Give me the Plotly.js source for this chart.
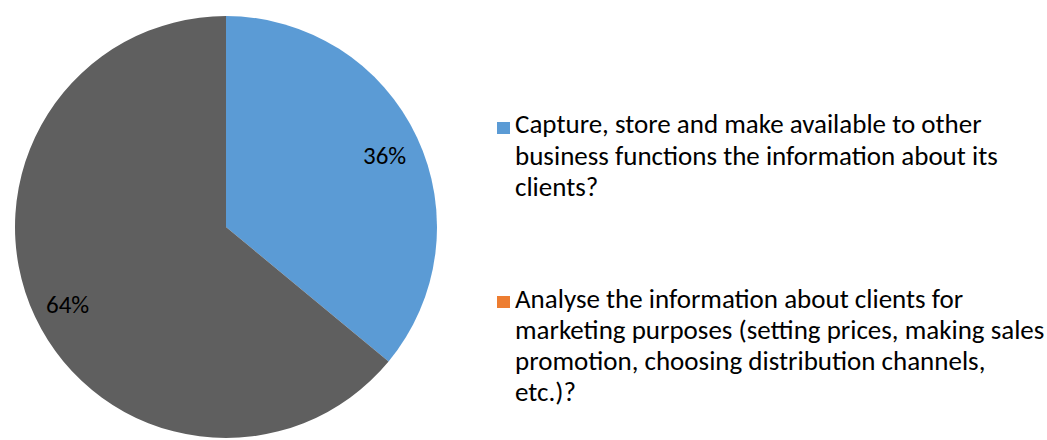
<!DOCTYPE html>
<html>
<head>
<meta charset="utf-8">
<script src="https://cdn.plot.ly/plotly-3.0.1.min.js"></script>
<style>
	html,body{margin:0;padding:0;background:#fff;}
	#chart{width:1047px;height:440px;}
</style>
</head>
<body>
<div id="chart"></div>
<script>
// data
const categories = [
	'Capture, store and make available to other business functions the information about its clients?',
	'Analyse the information about clients for marketing purposes (setting prices, making sales promotion, choosing distribution channels, etc.)?'
];
const shares = [36, 64];
const legendLines = [
	['Capture, store and make available to other', 'business functions the information about its', 'clients?'],
	['Analyse the information about clients for', 'marketing purposes (setting prices, making sales', 'promotion, choosing distribution channels,', 'etc.)?']
];
const sliceColors = ['#5b9bd5', '#5f5f5f'];
const legendColors = ['#5b9bd5', '#ed7d31'];

const W = 1047, H = 440;
const font = 'Carlito, Lato, "Open Sans", "Noto Sans", sans-serif';

// pie geometry in pixels
const cx = 226, cy = 227, R = 211;

const pie = {
	type: 'pie',
	values: shares,
	labels: categories,
	sort: false,
	direction: 'clockwise',
	rotation: 0,
	textinfo: 'none',
	hoverinfo: 'label+percent',
	marker: {colors: sliceColors, line: {width: 0}},
	domain: {x: [(cx - R) / W, (cx + R) / W], y: [(H - cy - R) / H, (H - cy + R) / H]},
	showlegend: false
};

// percent labels placed along each slice's middle angle
const total = shares.reduce((a, b) => a + b, 0);
let annotations = [];
let cum = 0;
shares.forEach((v) => {
	let mid = (cum + v / 2) / total * 2 * Math.PI;
	cum += v;
	let px = cx + 0.83 * R * Math.sin(mid);
	let py = cy - 0.83 * R * Math.cos(mid) + 3;
	annotations.push({
		xref: 'paper', yref: 'paper', x: px / W, y: 1 - py / H,
		xanchor: 'center', yanchor: 'middle',
		text: Math.round(v / total * 100) + '%', showarrow: false,
		font: {family: font, size: 25, color: '#000'}
	});
});

// custom legend (marker colours differ from slices in the original)
const legendTop = [124, 298];
const lineGap = 31;
let shapes = [];
legendLines.forEach((lines, i) => {
	let y0 = legendTop[i];
	shapes.push({
		type: 'rect', xref: 'paper', yref: 'paper',
		x0: 497 / W, x1: 510 / W, y0: 1 - (y0 + 10) / H, y1: 1 - (y0 - 2) / H,
		fillcolor: legendColors[i], line: {width: 0}
	});
	lines.forEach((t, j) => {
		annotations.push({
			xref: 'paper', yref: 'paper', x: 513 / W, y: 1 - (y0 + j * lineGap) / H,
			xanchor: 'left', yanchor: 'middle', text: t, showarrow: false,
			font: {family: font, size: 27, color: '#000'}
		});
	});
});

const layout = {
	width: W, height: H,
	margin: {l: 0, r: 0, t: 0, b: 0},
	paper_bgcolor: '#fff',
	plot_bgcolor: '#fff',
	annotations: annotations,
	shapes: shapes
};

Plotly.newPlot('chart', [pie], layout, {displayModeBar: false, staticPlot: true});
</script>
</body>
</html>
